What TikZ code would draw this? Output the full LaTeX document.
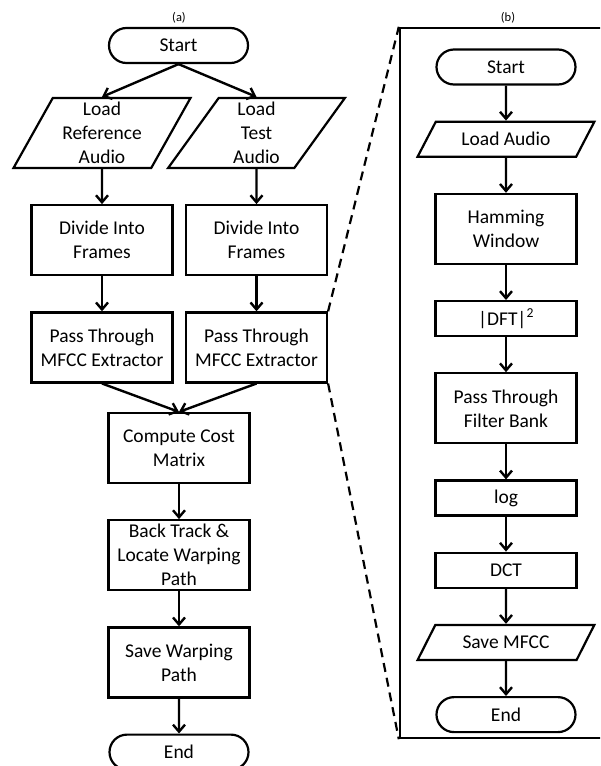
\documentclass[tikz,border=0pt]{standalone}
\usepackage{fontspec}
\setmainfont{Carlito}
\usetikzlibrary{arrows.meta,positioning,shapes.geometric,shapes.misc}

\begin{document}
\begin{tikzpicture}[x=1pt, y=-1pt,
    txt/.style={font=\fontsize{19.5}{24}\selectfont},
    term/.style={txt, draw, rounded rectangle, line width=2.2pt, minimum width=143pt, minimum height=35pt, inner sep=2pt},
    proc/.style={txt, draw, rectangle, line width=2.2pt, minimum width=141pt, minimum height=35pt, inner sep=2pt, align=center},
    io/.style={txt, draw, trapezium, trapezium left angle=63, trapezium right angle=117, trapezium stretches=true, minimum width=177pt, minimum height=70pt, inner sep=1pt, align=center, line width=2.2pt},
    flow/.style={-{Straight Barb[length=7pt,width=12pt]}, line width=2.4pt},
    zoomline/.style={line width=2.2pt, dash pattern=on 9pt off 6pt},
    figlabel/.style={font=\fontsize{12.5}{14}\selectfont}
  ]
    \useasboundingbox (0,0) rectangle (600,766);
    \clip (0,0) rectangle (600,766);

    % (a) matching
    \node[figlabel] (capa) at (179,18) {(a)};
    \node[term] (sa) at (178.5,45.5) {Start};
    \node[io] (lref) at (102,133) {Load\\Reference\\Audio};
    \node[io] (ltest) at (256.5,133) {Load\\Test\\Audio};
    \node[proc, minimum height=70pt, below=35pt of lref] (dl) {Divide Into\\Frames};
    \node[proc, minimum height=70pt, below=35pt of ltest] (dr) {Divide Into\\Frames};
    \node[proc, minimum height=70pt, below=35pt of dl] (pl) {Pass Through\\MFCC Extractor};
    \node[proc, minimum height=70pt, below=35pt of dr] (pr) {Pass Through\\MFCC Extractor};
    \node[proc, minimum height=70pt] (cc) at (179,448) {Compute Cost\\Matrix};
    \node[proc, minimum height=70pt, below=35pt of cc] (bt) {Back Track \&\\Locate Warping\\Path};
    \node[proc, minimum height=70pt, below=35pt of bt] (swp) {Save Warping\\Path};
    \node[term, below=35pt of swp] (ea) {End};

    \draw[flow] (sa.south) -- (lref.north);
    \draw[flow] (sa.south) -- (ltest.north);
    \draw[flow] (lref) -- (dl);
    \draw[flow] (ltest) -- (dr);
    \draw[flow] (dl) -- (pl);
    \draw[flow] (dr) -- (pr);
    \draw[flow] (pl.south) -- (cc.north);
    \draw[flow] (pr.south) -- (cc.north);
    \draw[flow] (cc) -- (bt);
    \draw[flow] (bt) -- (swp);
    \draw[flow] (swp) -- (ea);

    % (b) MFCC extractor
    \node[figlabel] (capb) at (508,17.5) {(b)};
    \node[draw, line width=2.4pt, minimum width=212pt, minimum height=710pt] (zoom) at (506,383) {};
    \node[term] (sb) at (506,67) {Start};
    \node[io, trapezium left angle=53, trapezium right angle=127, minimum height=35pt, below=35pt of sb] (la) {Load Audio};
    \node[proc, minimum height=70pt, below=35pt of la] (hw) {Hamming\\Window};
    \node[proc, below=35pt of hw] (dft) {{|}DFT{|}\textsuperscript{2}};
    \node[proc, minimum height=70pt, below=35pt of dft] (fb) {Pass Through\\Filter Bank};
    \node[proc, below=35pt of fb] (lg) {log};
    \node[proc, below=35pt of lg] (dct) {DCT};
    \node[io, trapezium left angle=53, trapezium right angle=127, minimum height=35pt, below=35pt of dct] (sm) {Save MFCC};
    \node[term, below=35pt of sm] (eb) {End};

    \draw[flow] (sb) -- (la);
    \draw[flow] (la) -- (hw);
    \draw[flow] (hw) -- (dft);
    \draw[flow] (dft) -- (fb);
    \draw[flow] (fb) -- (lg);
    \draw[flow] (lg) -- (dct);
    \draw[flow] (dct) -- (sm);
    \draw[flow] (sm) -- (eb);

    \draw[zoomline] (pr.north east) -- (zoom.north west);
    \draw[zoomline] (pr.south east) -- (zoom.south west);
  \end{tikzpicture}
\end{document}
